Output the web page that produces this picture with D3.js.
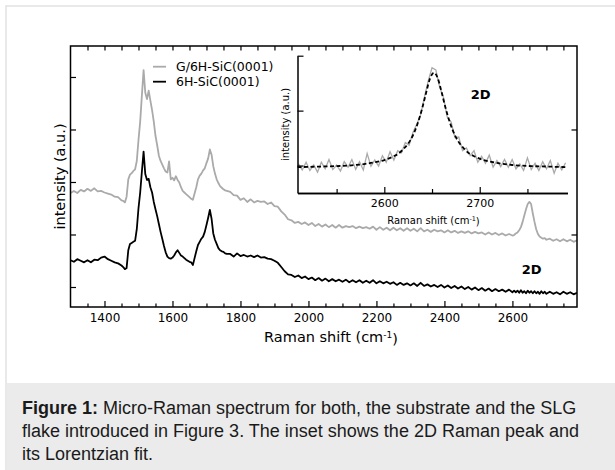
<!DOCTYPE html>
<html>
<head>
<meta charset="utf-8">
<script src="https://cdn.jsdelivr.net/npm/d3@7"></script>
<style>
  body { margin: 0; background: #fff; }
  svg { display: block; }
</style>
</head>
<body>
<svg id="figure" width="615" height="470"></svg>
<script>
// Raman shift (cm-1) for the two main spectra
const shift = [
  1300,1310,1320,1330,1340,1350,1360,1370,1380,1390,1400,1410,1420,1430,1440,1450,
  1455,1460,1465,1470,1475,1480,1485,1490,1495,1500,1505,1510,1515,1520,1525,1530,1535,1540,1545,1550,
  1555,1560,1565,1570,1575,1580,1585,1590,1595,1600,1605,1610,1615,1620,1625,1630,1635,1640,1645,1650,
  1655,1660,1665,1670,1675,1680,1685,1690,1695,1700,1705,1710,1715,1720,1725,1730,1735,1740,1745,1750,
  1755,1760,
  1770,1780,1790,1800,1810,1820,1830,1840,1850,1860,1870,1880,1890,1900,1910,1920,1930,1940,1950,1960,
  1970,1980,1990,2000,2010,2020,2030,2040,2050,2060,2070,2080,2090,2100,2110,2120,2130,2140,2150,2160,
  2170,2180,2190,2200,2210,2220,2230,2240,2250,2260,2270,2280,2290,2300,2310,2320,2330,2340,2350,2360,
  2370,2380,2390,2400,2410,2420,2430,2440,2450,2460,2470,2480,2490,2500,2510,2520,2530,2540,2550,2560,
  2570,2580,2590,2600,
  2605,2610,2615,2620,2625,2630,2635,2640,2645,2650,2655,2660,2665,2670,2675,2680,2685,2690,2695,2700,
  2710,2720,2730,2740,2750,2760,2770,2780,2790
];

// G/6H-SiC(0001), grey trace
const grapheneOnSiC = [
  2.79,2.83,2.79,2.85,2.82,2.87,2.83,2.88,2.82,2.83,2.80,2.78,2.76,2.72,2.71,2.65,
  2.64,2.61,2.72,3.05,3.14,3.17,3.21,3.24,3.40,3.80,4.15,4.65,5.13,4.70,4.58,4.74,4.55,4.37,4.15,3.88,
  3.70,3.50,3.40,3.33,3.26,3.20,3.18,3.39,3.05,3.08,3.03,3.11,3.04,2.99,2.90,2.83,2.80,2.77,2.74,2.71,
  2.68,2.66,2.78,2.90,3.05,3.12,3.16,3.22,3.26,3.36,3.45,3.62,3.52,3.30,3.16,3.05,2.98,2.92,2.89,2.86,
  2.84,2.83,
  2.81,2.75,2.74,2.66,2.69,2.62,2.67,2.61,2.64,2.62,2.63,2.58,2.61,2.54,2.53,2.44,2.38,2.29,2.27,2.22,
  2.24,2.20,2.23,2.18,2.22,2.16,2.20,2.15,2.19,2.14,2.18,2.13,2.18,2.13,2.16,2.14,2.16,2.12,2.15,2.12,
  2.14,2.11,2.15,2.09,2.14,2.09,2.13,2.08,2.13,2.08,2.12,2.07,2.12,2.07,2.11,2.06,2.12,2.06,2.09,2.05,
  2.09,2.06,2.08,2.04,2.08,2.04,2.07,2.03,2.06,2.03,2.06,2.02,2.05,2.02,2.04,2.00,2.04,2.00,2.03,1.99,
  2.02,1.98,2.01,1.98,
  1.99,2.02,2.04,2.08,2.14,2.24,2.36,2.48,2.58,2.62,2.58,2.40,2.24,2.10,2.01,1.96,1.94,1.92,1.93,1.90,
  1.92,1.88,1.91,1.87,1.91,1.87,1.90,1.86,1.89
];

// 6H-SiC(0001), black trace
const bareSiC = [
  1.51,1.48,1.53,1.50,1.47,1.51,1.47,1.52,1.51,1.56,1.58,1.53,1.50,1.47,1.45,1.41,
  1.38,1.34,1.36,1.70,1.82,1.84,1.86,1.88,2.10,2.50,2.80,3.20,3.58,3.15,3.04,3.06,2.90,2.80,2.62,2.48,
  2.35,2.20,2.05,1.92,1.78,1.66,1.58,1.55,1.54,1.56,1.60,1.66,1.70,1.65,1.60,1.58,1.55,1.52,1.50,1.48,
  1.47,1.42,1.55,1.68,1.80,1.86,1.92,1.96,2.05,2.18,2.32,2.47,2.30,2.02,1.90,1.82,1.74,1.70,1.68,1.67,
  1.64,1.63,
  1.63,1.58,1.64,1.59,1.61,1.58,1.60,1.57,1.60,1.56,1.57,1.54,1.53,1.50,1.46,1.38,1.30,1.24,1.23,1.19,
  1.22,1.17,1.20,1.15,1.18,1.13,1.17,1.12,1.16,1.11,1.15,1.11,1.14,1.10,1.14,1.09,1.13,1.09,1.13,1.08,
  1.12,1.08,1.13,1.07,1.11,1.07,1.10,1.06,1.09,1.04,1.08,1.04,1.07,1.03,1.07,1.02,1.08,1.02,1.05,1.01,
  1.04,1.00,1.04,0.99,1.03,0.98,1.02,0.97,1.01,0.96,1.00,0.95,0.99,0.94,0.98,0.93,0.97,0.92,0.96,0.92,
  0.95,0.91,0.95,0.90,
  0.93,0.90,0.93,0.89,0.94,0.89,0.92,0.88,0.93,0.89,0.92,0.88,0.92,0.88,0.91,0.87,0.92,0.88,0.91,0.87,
  0.91,0.87,0.90,0.86,0.91,0.87,0.90,0.86,0.89
];

// inset: 2D band of the graphene spectrum
const insetShift = [
  2510,2514,2518,2522,2526,2530,2534,2538,2542,2546,2550,2554,2558,2562,2566,2570,2574,2578,2582,2586,
  2590,2594,2598,2602,2606,2610,2614,2618,2622,2626,2630,2634,2638,2642,2646,2650,2654,2658,2662,2666,
  2670,2674,2678,2682,2686,2690,2694,2698,2702,2706,2710,2714,2718,2722,2726,2730,2734,2738,2742,2746,
  2750,2754,2758,2762,2766,2770,2774,2778,2782,2786,2790
];
const insetSignal = [
  0.03,-0.08,0.06,-0.09,0.01,-0.12,0.06,-0.06,0.11,-0.07,0.01,-0.10,0.07,-0.03,0.11,-0.07,0.07,-0.08,0.22,-0.01,
  0.10,-0.01,0.18,0.06,0.25,0.10,0.27,0.23,0.42,0.37,0.60,0.75,0.92,1.24,1.54,1.78,1.74,1.43,1.24,0.88,
  0.79,0.51,0.52,0.27,0.32,0.18,0.27,0.06,0.17,0.04,0.19,-0.03,0.09,-0.02,0.11,-0.03,0.11,-0.06,0.03,-0.09,
  0.14,-0.07,0.04,-0.09,0.07,-0.06,0.09,-0.14,0.04,-0.08,0.05
];

// Lorentzian fit (dashed)
const fitShift = [2509,2530,2550,2570,2580,2590,2600,2610,2615,2620,2625,2630,2635,2640,2644,2648,2652,
                  2656,2660,2664,2669,2674,2679,2684,2689,2694,2704,2714,2724,2734,2754,2774,2792];
const fitValue = [-0.03,-0.02,-0.01,0.01,0.03,0.06,0.10,0.17,0.22,0.30,0.40,0.55,0.77,1.06,1.34,1.59,1.69,
                  1.59,1.34,1.06,0.77,0.55,0.40,0.30,0.22,0.17,0.10,0.06,0.03,0.01,-0.01,-0.02,-0.03];

const majorTicks = [1400,1600,1800,2000,2200,2400,2600];
const minorTicks = [1350,1450,1500,1550,1650,1700,1750,1850,1900,1950,2050,2100,2150,
                    2250,2300,2350,2450,2500,2550,2650,2700,2750];
const leftTicks = [1,2,3,4,5];
const rightTicks = [2,4];
const insetMajor = [2600,2700];
const insetMinor = [2550,2650,2750];
const insetLeftTicks = [0,1,2];

const seriesNames = ["G/6H-SiC(0001)", "6H-SiC(0001)"];
const seriesColors = ["#aaaaaa", "#000000"];

const captionLines = [
  "Micro-Raman spectrum for both, the substrate and the SLG",
  "flake introduced in Figure 3. The inset shows the 2D Raman peak and",
  "its Lorentzian fit."
];

const font = "DejaVu Sans";
const svg = d3.select("#figure");

// page frame + caption box
svg.append("rect").attr("x", 7).attr("y", 383).attr("width", 608).attr("height", 87).attr("fill", "#ebebeb");
svg.append("line").attr("x1", 6).attr("x2", 6).attr("y1", 5.25).attr("y2", 470)
  .attr("stroke", "#e2e2e2").attr("stroke-width", 1.5);
svg.append("line").attr("x1", 6).attr("x2", 615).attr("y1", 6).attr("y2", 6)
  .attr("stroke", "#e2e2e2").attr("stroke-width", 1.5);

const cap = svg.append("g").attr("font-family", "Liberation Sans, Arial, sans-serif")
  .attr("font-size", 18).attr("fill", "#1a1a1a");
captionLines.forEach((t, i) => {
  const line = cap.append("text").attr("x", 22).attr("y", 414 + i * 23);
  if (i === 0) line.append("tspan").attr("font-weight", "bold").text("Figure 1:");
  line.append("tspan").text(i === 0 ? " " + t : t);
});

// main plot
const x = d3.scaleLinear().domain([1300, 2790]).range([70.5, 577]);
const y = d3.scaleLinear().domain([0.619, 5.59]).range([307, 46]);

svg.append("clipPath").attr("id", "plotclip").append("rect")
  .attr("x", 70.5).attr("y", 46).attr("width", 506.5).attr("height", 261);

const line = d3.line().x((d, i) => x(shift[i])).y(d => y(d));
const traces = [grapheneOnSiC, bareSiC];
svg.append("g").attr("clip-path", "url(#plotclip)")
  .selectAll("path").data(traces).enter().append("path")
  .attr("d", line)
  .attr("fill", "none")
  .attr("stroke", (d, i) => seriesColors[i])
  .attr("stroke-width", 1.8)
  .attr("stroke-linejoin", "round");

function styleAxis(g, size) {
  g.select(".domain").remove();
  g.selectAll("line").attr("stroke-width", 1.2);
  g.attr("font-family", font).attr("font-size", size || 12);
  g.selectAll("text").attr("fill", "#000");
}

svg.append("g").attr("transform", "translate(0,307)")
  .call(d3.axisBottom(x).tickValues(majorTicks).tickSize(-6).tickPadding(6).tickFormat(d3.format("d")))
  .call(styleAxis, 12);
svg.append("g").attr("transform", "translate(0,307)")
  .call(d3.axisBottom(x).tickValues(minorTicks).tickSize(-3.5).tickFormat(""))
  .call(styleAxis);
svg.append("g").attr("transform", "translate(0,46)")
  .call(d3.axisTop(x).tickValues(majorTicks.concat(minorTicks)).tickSize(-4.5).tickFormat(""))
  .call(styleAxis);
svg.append("g").attr("transform", "translate(70.5,0)")
  .call(d3.axisLeft(y).tickValues(leftTicks).tickSize(-5.5).tickFormat(""))
  .call(styleAxis);
svg.append("g").attr("transform", "translate(577,0)")
  .call(d3.axisRight(y).tickValues(rightTicks).tickSize(-5.5).tickFormat(""))
  .call(styleAxis);

svg.append("rect").attr("x", 70.5).attr("y", 46).attr("width", 506.5).attr("height", 261)
  .attr("fill", "none").attr("stroke", "#000").attr("stroke-width", 1.5);

// axis titles
const xt = svg.append("text").attr("x", 331).attr("y", 342).attr("text-anchor", "middle")
  .attr("font-family", font).attr("font-size", 14.5);
xt.append("tspan").text("Raman shift (cm");
xt.append("tspan").attr("dy", "-0.45em").attr("font-size", "0.62em").text("-1");
xt.append("tspan").attr("dy", "0.45em").text(")");

svg.append("text").attr("transform", "translate(64.5,176.5) rotate(-90)")
  .attr("text-anchor", "middle").attr("font-family", font).attr("font-size", 14.5)
  .text("intensity (a.u.)");

// legend
const legend = svg.append("g").attr("font-family", font).attr("font-size", 12.5);
seriesNames.forEach((name, i) => {
  const ly = 66.7 + i * 15;
  legend.append("line").attr("x1", 153).attr("x2", 166).attr("y1", ly).attr("y2", ly)
    .attr("stroke", seriesColors[i]).attr("stroke-width", 1.8);
  legend.append("text").attr("x", 176).attr("y", ly).attr("dy", "0.36em").text(name);
});

svg.append("text").attr("x", 531.7).attr("y", 274).attr("text-anchor", "middle")
  .attr("font-family", font).attr("font-weight", "bold").attr("font-size", 13).text("2D");

// inset
const xi = d3.scaleLinear().domain([2509, 2792]).range([297.5, 567.5]);
const yi = d3.scaleLinear().domain([-0.5, 2]).range([193, 55.7]);

svg.append("path").datum(insetSignal)
  .attr("d", d3.line().x((d, i) => xi(insetShift[i])).y(d => yi(d)))
  .attr("fill", "none").attr("stroke", "#aaaaaa").attr("stroke-width", 1.3);
svg.append("path").datum(fitValue)
  .attr("d", d3.line().curve(d3.curveMonotoneX).x((d, i) => xi(fitShift[i])).y(d => yi(d)))
  .attr("fill", "none").attr("stroke", "#000").attr("stroke-width", 1.8)
  .attr("stroke-dasharray", "4,2.5");

function styleInset(g) {
  g.select(".domain").attr("stroke-width", 1.5);
  g.selectAll("line").attr("stroke-width", 1.2);
  g.attr("font-family", font).attr("font-size", 11);
  g.selectAll("text").attr("fill", "#000");
}
svg.append("g").attr("transform", "translate(0,193)")
  .call(d3.axisBottom(xi).tickValues(insetMajor).tickSizeInner(-6).tickSizeOuter(0).tickPadding(6)
    .tickFormat(d3.format("d")))
  .call(styleInset);
svg.append("g").attr("transform", "translate(0,193)")
  .call(d3.axisBottom(xi).tickValues(insetMinor).tickSizeInner(-4).tickSizeOuter(0).tickFormat(""))
  .call(styleInset);
svg.append("g").attr("transform", "translate(297.5,0)")
  .call(d3.axisLeft(yi).tickValues(insetLeftTicks).tickSizeInner(-6).tickSizeOuter(0).tickFormat(""))
  .call(styleInset);

const xti = svg.append("text").attr("x", 433.5).attr("y", 223.5).attr("text-anchor", "middle")
  .attr("font-family", font).attr("font-size", 10);
xti.append("tspan").text("Raman shift (cm");
xti.append("tspan").attr("dy", "-0.45em").attr("font-size", "0.65em").text("-1");
xti.append("tspan").attr("dy", "0.45em").text(")");

svg.append("text").attr("transform", "translate(289.3,124.4) rotate(-90)")
  .attr("text-anchor", "middle").attr("font-family", font).attr("font-size", 10)
  .text("intensity (a.u.)");

svg.append("text").attr("x", 480.7).attr("y", 98.7).attr("text-anchor", "middle")
  .attr("font-family", font).attr("font-weight", "bold").attr("font-size", 13).text("2D");
</script>
</body>
</html>
